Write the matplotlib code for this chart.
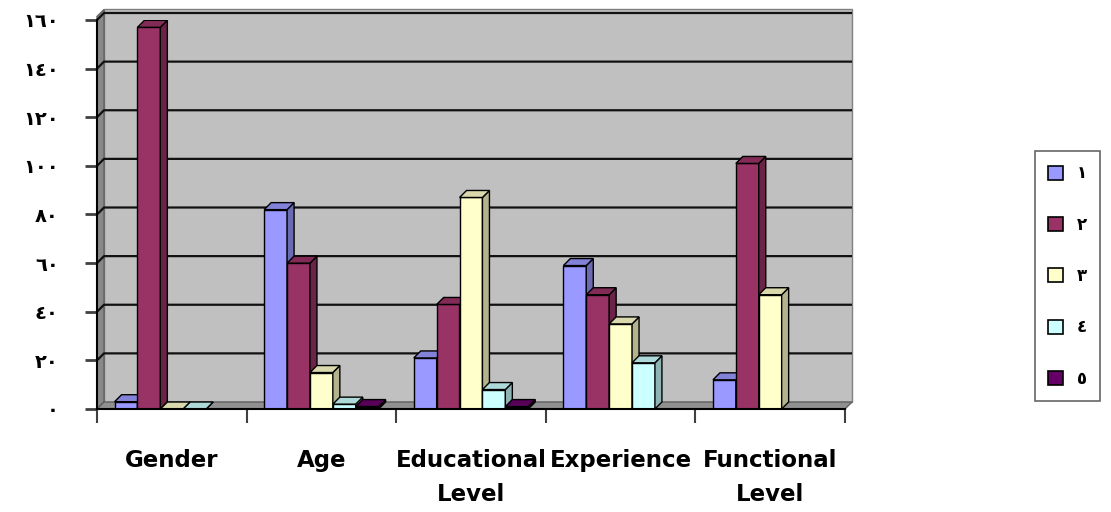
import matplotlib
matplotlib.use("Agg")
import matplotlib.pyplot as plt
from matplotlib.patches import Patch
import numpy as np

# data
categories = ["Gender", "Age", "Educational\nLevel", "Experience", "Functional\nLevel"]
series_labels = ["١", "٢", "٣", "٤", "٥"]
s1 = [3, 82, 21, 59, 12]
s2 = [157, 60, 43, 47, 101]
s3 = [0, 15, 87, 35, 47]
s4 = [0, 2, 8, 19, None]
s5 = [None, 1, 1, None, None]
y_ticks = [0, 20, 40, 60, 80, 100, 120, 140, 160]
y_tick_labels = ["٠", "٢٠", "٤٠", "٦٠", "٨٠", "١٠٠", "١٢٠", "١٤٠", "١٦٠"]

colors = ["#9999FF", "#993366", "#FFFFCC", "#CCFFFF", "#660066"]


def shade(c, f):
    rgb = np.array(matplotlib.colors.to_rgb(c))
    return tuple(rgb * f)


W, H = 1111, 512
fig = plt.figure(figsize=(W / 100, H / 100), dpi=100)
ax = fig.add_axes([97 / W, (H - 409) / H, (845 - 97) / W, (409 - 20) / H])
ax.set_xlim(0, 5)
ax.set_ylim(0, 160)
for s in ax.spines.values():
    s.set_visible(False)

# depth offset of the pseudo 3d box (about 7 px)
dx = 7 / 748 * 5
dy = 7 / 389 * 160
top = 160 + 0.5 * dy

# walls and floor
ax.fill([dx, 5 + dx, 5 + dx, dx], [dy, dy, top + dy, top + dy], color="#C0C0C0",
        ec="#808080", lw=1, zorder=0, clip_on=False)
ax.fill([0, dx, dx, 0], [0, dy, top + dy, top], color="#888888", ec="#606060", lw=1,
        zorder=0.5, clip_on=False)
ax.fill([0, 5, 5 + dx, dx], [0, 0, dy, dy], color="#909090", ec="#606060", lw=1,
        zorder=0.5, clip_on=False)

# gridlines on side and back wall
for v in y_ticks[1:]:
    ax.plot([0, dx, 5 + dx], [v, v + dy, v + dy], color="#111111", lw=1.6, zorder=1,
            clip_on=False, solid_capstyle="butt")

# bars
series = [s1, s2, s3, s4, s5]
bw = 0.153
off = (1 - 5 * bw) / 2
z = 2
for i in range(len(categories)):
    for j, vals in enumerate(series):
        v = vals[i]
        if v is None:
            continue
        x0 = i + off + j * bw
        ax.bar(x0, v, width=bw, align="edge", color=colors[j], edgecolor="black",
               lw=1, zorder=z)
        ax.fill([x0 + bw, x0 + bw + dx, x0 + bw + dx, x0 + bw],
                [0, dy, v + dy, v], color=shade(colors[j], 0.7), ec="black", lw=1,
                zorder=z)
        ax.fill([x0, x0 + dx, x0 + bw + dx, x0 + bw],
                [v, v + dy, v + dy, v], color=shade(colors[j], 0.85), ec="black",
                lw=1, zorder=z)
        z += 1

# axes lines
ax.plot([0, 0], [0, 160], color="black", lw=1.5, zorder=z, clip_on=False)
ax.plot([0, 5], [0, 0], color="black", lw=1.5, zorder=z, clip_on=False)

ax.set_yticks(y_ticks)
ax.set_yticklabels(y_tick_labels, fontsize=14, fontweight="bold", family="DejaVu Sans")
ax.tick_params(axis="y", direction="out", length=8.5, width=2, color="#404040", pad=19)

ax.set_xticks(range(6))
ax.set_xticklabels([])
ax.tick_params(axis="x", which="major", direction="out", length=10, width=1.5,
               color="#404040")
ax.set_xticks(np.arange(5) + 0.5, minor=True)
ax.set_xticklabels(categories, minor=True, fontsize=16.5, fontweight="bold",
                   linespacing=1.6)
ax.tick_params(axis="x", which="minor", length=0, pad=29)

handles = [Patch(facecolor=c, edgecolor="black", lw=1.2) for c in colors]
leg = fig.legend(handles, series_labels, loc="center left",
                 bbox_to_anchor=(1035 / W, (H - 276) / H), frameon=True,
                 fancybox=False, edgecolor="#404040", handlelength=0.9,
                 handleheight=0.9, labelspacing=2.0, borderpad=0.8,
                 prop={"size": 12, "weight": "bold"}, handletextpad=0.8,
                 borderaxespad=0)
leg.get_frame().set_linewidth(1.2)

fig.savefig("out.png", dpi=100)
